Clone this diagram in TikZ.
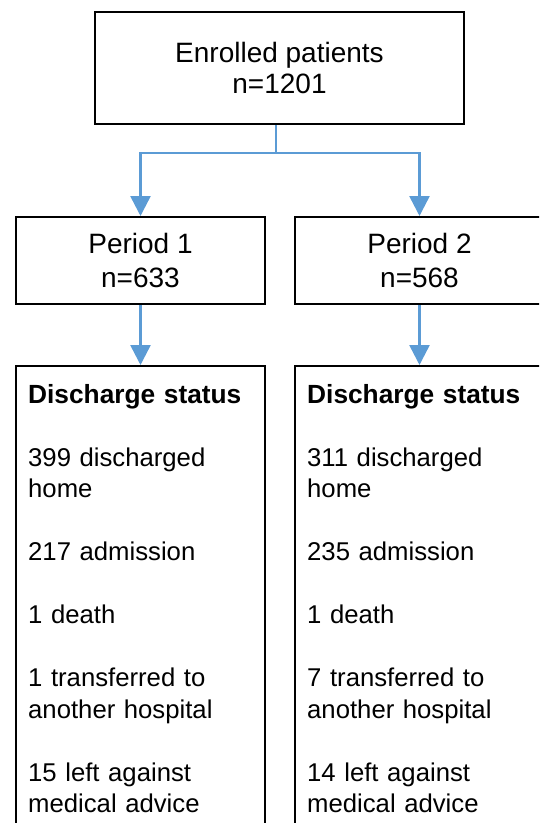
\documentclass[tikz,border=0pt]{standalone}
\usepackage{fontspec}
\setmainfont{Liberation Sans}
\usetikzlibrary{arrows.meta}
\definecolor{flowblue}{RGB}{91,155,213}
\tikzset{
  box/.style={draw=black, line width=2pt, rectangle, inner sep=0pt, align=center},
  topbox/.style={box, minimum width=369pt, minimum height=112.5pt, font=\fontsize{28}{30.5}\selectfont},
  periodbox/.style={box, minimum width=249pt, minimum height=87pt, font=\fontsize{28}{34}\selectfont},
  statusbox/.style={box, minimum width=249pt, minimum height=534pt},
  statuslist/.style={anchor=north west, inner sep=0pt, align=left, text width=235pt, font=\fontsize{25.7}{31.5}\selectfont},
  flow/.style={draw=flowblue, line width=2.5pt},
  flowarrow/.style={flow, -{Triangle[width=20pt,length=20pt]}},
}

\begin{document}
\begin{tikzpicture}[x=1pt, y=-1pt]
    \useasboundingbox (0,0) rectangle (539,823);
    \clip (0,0) rectangle (539,823);

    % Общее число пациентов
    \node[topbox] (enrolled) at (279.5,67.75) {Enrolled patients\\n=1201};

    % Два периода
    \node[periodbox] (period1) at (140.5,260.5) {Period 1\\n=633};
    \node[periodbox] (period2) at (419.5,260.5) {Period 2\\n=568};

    % Исходы (рамки уходят за нижний край)
    \node[statusbox] (status1) at (140.5,633) {};
    \node[statusbox] (status2) at (419.5,633) {};

    \node[statuslist] (list1) at ([xshift=13pt,yshift=-19pt]status1.north west)
        {{\fontsize{26.3}{31.5}\selectfont\bfseries Discharge status}\\[31.5pt]
         399 discharged\\home\\[31.5pt]
         217 admission\\[31.5pt]
         1 death\\[31.5pt]
         1 transferred to\\another hospital\\[31.5pt]
         15 left against\\medical advice};
    \node[statuslist] (list2) at ([xshift=13pt,yshift=-19pt]status2.north west)
        {{\fontsize{26.3}{31.5}\selectfont\bfseries Discharge status}\\[31.5pt]
         311 discharged\\home\\[31.5pt]
         235 admission\\[31.5pt]
         1 death\\[31.5pt]
         7 transferred to\\another hospital\\[31.5pt]
         14 left against\\medical advice};

    % Стрелки
    \coordinate (split) at (276,153);
    \draw[flow] (split |- enrolled.south) -- (split);
    \draw[flowarrow] (split) -| (period1.north);
    \draw[flowarrow] (split) -| (period2.north);
    \draw[flowarrow] (period1.south) -- (status1.north);
    \draw[flowarrow] (period2.south) -- (status2.north);
\end{tikzpicture}
\end{document}
